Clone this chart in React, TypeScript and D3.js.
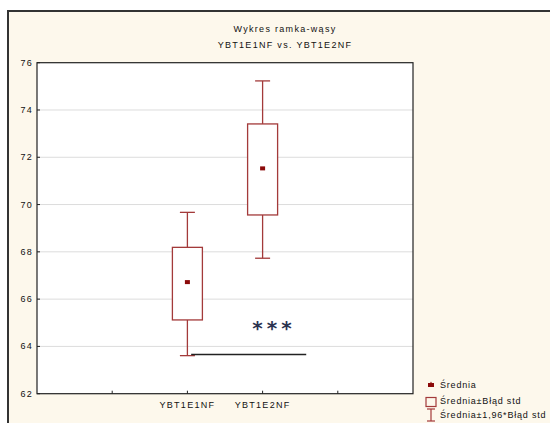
import React from "react";
import * as d3 from "d3";

const categories = ["YBT1E1NF", "YBT1E2NF"];
const catPos = [2, 3];
const means = [66.72, 71.53];
const boxLow = [65.12, 69.56];
const boxHigh = [68.19, 73.41];
const whiskLow = [63.61, 67.73];
const whiskHigh = [69.67, 75.23];
const yTicks = [62, 64, 66, 68, 70, 72, 74, 76];
const xTickPos = [1, 2, 3, 4];
const sigLine = { value: 63.66, from: 2.05, to: 3.58 };
const sigText = "***";
const titleLines = ["Wykres ramka-wąsy", "YBT1E1NF vs. YBT1E2NF"];
const legendItems = ["Średnia", "Średnia±Błąd std", "Średnia±1,96*Błąd std"];

const W = 550;
const H = 423;
const plot = { left: 37, right: 413, top: 62.7, bottom: 393.7 };
const RED = "#a33a3a";
const DARK = "#8b0a0a";
const FONT = "'Liberation Sans', Arial, sans-serif";
const LS = 1.3;
const LEG_LS = 0.8;

export default function App() {
  const x = d3.scaleLinear().domain([0, 5]).range([plot.left, plot.right]);
  const y = d3.scaleLinear().domain([62, 76]).range([plot.bottom, plot.top]);
  const boxW = 30;
  const capW = 15;

  return (
    <svg
      width={W}
      height={H}
      style={{ position: "absolute", left: 0, top: 0, background: "#fff" }}
      fontFamily={FONT}
    >
      <rect x={8} y={11} width={W} height={H} fill="#fdf8ec" stroke="#333" strokeWidth={2} />
      {titleLines.map((t, i) => (
        <text key={i} x={285} y={32 + i * 16} fontSize={9} textAnchor="middle" fill="#111" letterSpacing={LS}>
          {t}
        </text>
      ))}
      <rect
        x={plot.left}
        y={plot.top}
        width={plot.right - plot.left}
        height={plot.bottom - plot.top}
        fill="#fff"
      />
      {yTicks.slice(1, -1).map((v) => (
        <line key={v} x1={plot.left} x2={plot.right} y1={y(v)} y2={y(v)} stroke="#dcdcdc" strokeWidth={1} />
      ))}
      <rect
        x={plot.left}
        y={plot.top}
        width={plot.right - plot.left}
        height={plot.bottom - plot.top}
        fill="none"
        stroke="#222"
        strokeWidth={1.2}
      />
      {yTicks.map((v) => (
        <g key={v}>
          <line x1={plot.left} x2={plot.left + 3} y1={y(v)} y2={y(v)} stroke="#222" />
          <text x={33} y={y(v) + 3} fontSize={9} textAnchor="end" fill="#111" letterSpacing={LS}>
            {v}
          </text>
        </g>
      ))}
      {xTickPos.map((p) => (
        <line key={p} x1={x(p)} x2={x(p)} y1={plot.bottom} y2={plot.bottom - 3} stroke="#222" />
      ))}
      {categories.map((c, i) => (
        <text key={c} x={x(catPos[i])} y={408} fontSize={9} textAnchor="middle" fill="#111" letterSpacing={LS}>
          {c}
        </text>
      ))}
      {categories.map((c, i) => {
        const cx = x(catPos[i]);
        return (
          <g key={c}>
            <line x1={cx} x2={cx} y1={y(whiskHigh[i])} y2={y(boxHigh[i])} stroke={RED} strokeWidth={1.3} />
            <line x1={cx} x2={cx} y1={y(boxLow[i])} y2={y(whiskLow[i])} stroke={RED} strokeWidth={1.3} />
            <line x1={cx - capW / 2} x2={cx + capW / 2} y1={y(whiskHigh[i])} y2={y(whiskHigh[i])} stroke={RED} strokeWidth={1.3} />
            <line x1={cx - capW / 2} x2={cx + capW / 2} y1={y(whiskLow[i])} y2={y(whiskLow[i])} stroke={RED} strokeWidth={1.3} />
            <rect
              x={cx - boxW / 2}
              y={y(boxHigh[i])}
              width={boxW}
              height={y(boxLow[i]) - y(boxHigh[i])}
              fill="#fff"
              stroke={RED}
              strokeWidth={1.3}
            />
            <rect x={cx - 2.5} y={y(means[i]) - 2} width={5} height={4} fill={DARK} />
          </g>
        );
      })}
      <line
        x1={x(sigLine.from)}
        x2={x(sigLine.to)}
        y1={y(sigLine.value)}
        y2={y(sigLine.value)}
        stroke="#222"
        strokeWidth={1.5}
      />
      <text
        x={274}
        y={335}
        fontSize={20}
        fontWeight="bold"
        textAnchor="middle"
        fill="#2b3350"
        letterSpacing={4}
        fontFamily="'DejaVu Sans', sans-serif"
      >
        {sigText}
      </text>
      <g>
        <path d="M428.5,386 L431,381.5 L433.5,386 Z" fill={DARK} />
        <rect x={428} y={383} width={6} height={4} fill={DARK} />
        <text x={440} y={388} fontSize={9} fill="#111" letterSpacing={LEG_LS}>{legendItems[0]}</text>
        <rect x={426} y={397.5} width={10} height={9} fill="none" stroke={RED} strokeWidth={1.2} />
        <text x={440} y={404} fontSize={9} fill="#111" letterSpacing={LEG_LS}>{legendItems[1]}</text>
        <line x1={431} x2={431} y1={409} y2={421} stroke={RED} strokeWidth={1.2} />
        <line x1={427} x2={435} y1={409} y2={409} stroke={RED} strokeWidth={1.2} />
        <line x1={427} x2={435} y1={421} y2={421} stroke={RED} strokeWidth={1.2} />
        <text x={440} y={418} fontSize={9} fill="#111" letterSpacing={LEG_LS}>{legendItems[2]}</text>
      </g>
    </svg>
  );
}
